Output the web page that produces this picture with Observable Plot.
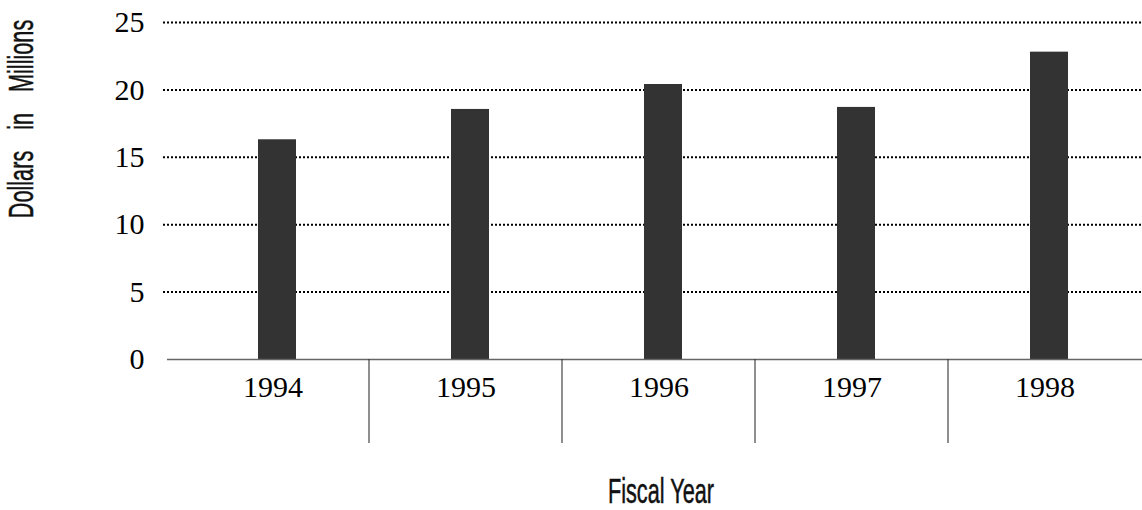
<!DOCTYPE html>
<html>
<head>
<meta charset="utf-8">
<script src="https://cdn.jsdelivr.net/npm/d3@7"></script>
<script src="https://cdn.jsdelivr.net/npm/@observablehq/plot@0.6"></script>
<style>
  html, body { margin: 0; padding: 0; background: #fff; }
  #chart svg { display: block; }
</style>
</head>
<body>
<div id="chart"></div>
<script>
// ---- data ----
const years = ["1994", "1995", "1996", "1997", "1998"];
const values = [16.3, 18.55, 20.4, 18.7, 22.8];
const yTicks = [0, 5, 10, 15, 20, 25];
const gridTicks = [5, 10, 15, 20, 25];
const yTitle = "Dollars in Millions";
const xTitle = "Fiscal Year";

const data = years.map((year, i) => ({year, value: values[i]}));

const W = 1142, H = 510;

function separators(index, scales, values, dims) {
  const {x, y} = scales;
  const g = d3.create("svg:g");
  years.slice(1).forEach(yr => {
    g.append("line")
      .attr("x1", x(yr)).attr("x2", x(yr))
      .attr("y1", y(0)).attr("y2", y(0) + 84)
      .attr("stroke", "#333").attr("stroke-width", 1.1);
  });
  return g.node();
}

function titles(index, scales, values, dims) {
  const g = d3.create("svg:g")
    .attr("font-family", "'Liberation Sans', Arial, sans-serif")
    .attr("font-size", 35)
    .attr("fill", "#111")
    .attr("stroke", "#111")
    .attr("stroke-width", 0.5);
  g.append("text")
    .attr("text-anchor", "middle")
    .attr("transform", "translate(33,119) rotate(-90) scale(0.62,1)")
    .attr("word-spacing", 24)
    .text(yTitle);
  g.append("text")
    .attr("text-anchor", "middle")
    .attr("transform", "translate(661,503) scale(0.62,1)")
    .text(xTitle);
  return g.node();
}

const chart = Plot.plot({
  width: W,
  height: H,
  marginLeft: 175,
  marginRight: 0,
  marginTop: 22,
  marginBottom: 151,
  style: {background: "#fff", color: "#000", overflow: "visible"},
  x: {type: "band", domain: years, padding: 0, axis: null},
  y: {domain: [0, 25], axis: null},
  marks: [
    Plot.ruleY(gridTicks, {stroke: "#000", strokeWidth: 2, strokeDasharray: "2,2", insetLeft: -12}),
    Plot.barY(data, {x: "year", y: "value", fill: "#333", insetLeft: 82, insetRight: 73}),
    Plot.ruleY([0], {stroke: "#666", strokeWidth: 1.4, insetLeft: -8}),
    Plot.axisY(yTicks, {tickSize: 0, tickPadding: 31, fontSize: 30, fontFamily: "'Liberation Serif', serif", label: null}),
    Plot.axisX({tickSize: 0, tickPadding: 16, fontSize: 30, fontFamily: "'Liberation Serif', serif", label: null}),
    separators,
    titles
  ]
});

document.getElementById("chart").appendChild(chart);
</script>
</body>
</html>
